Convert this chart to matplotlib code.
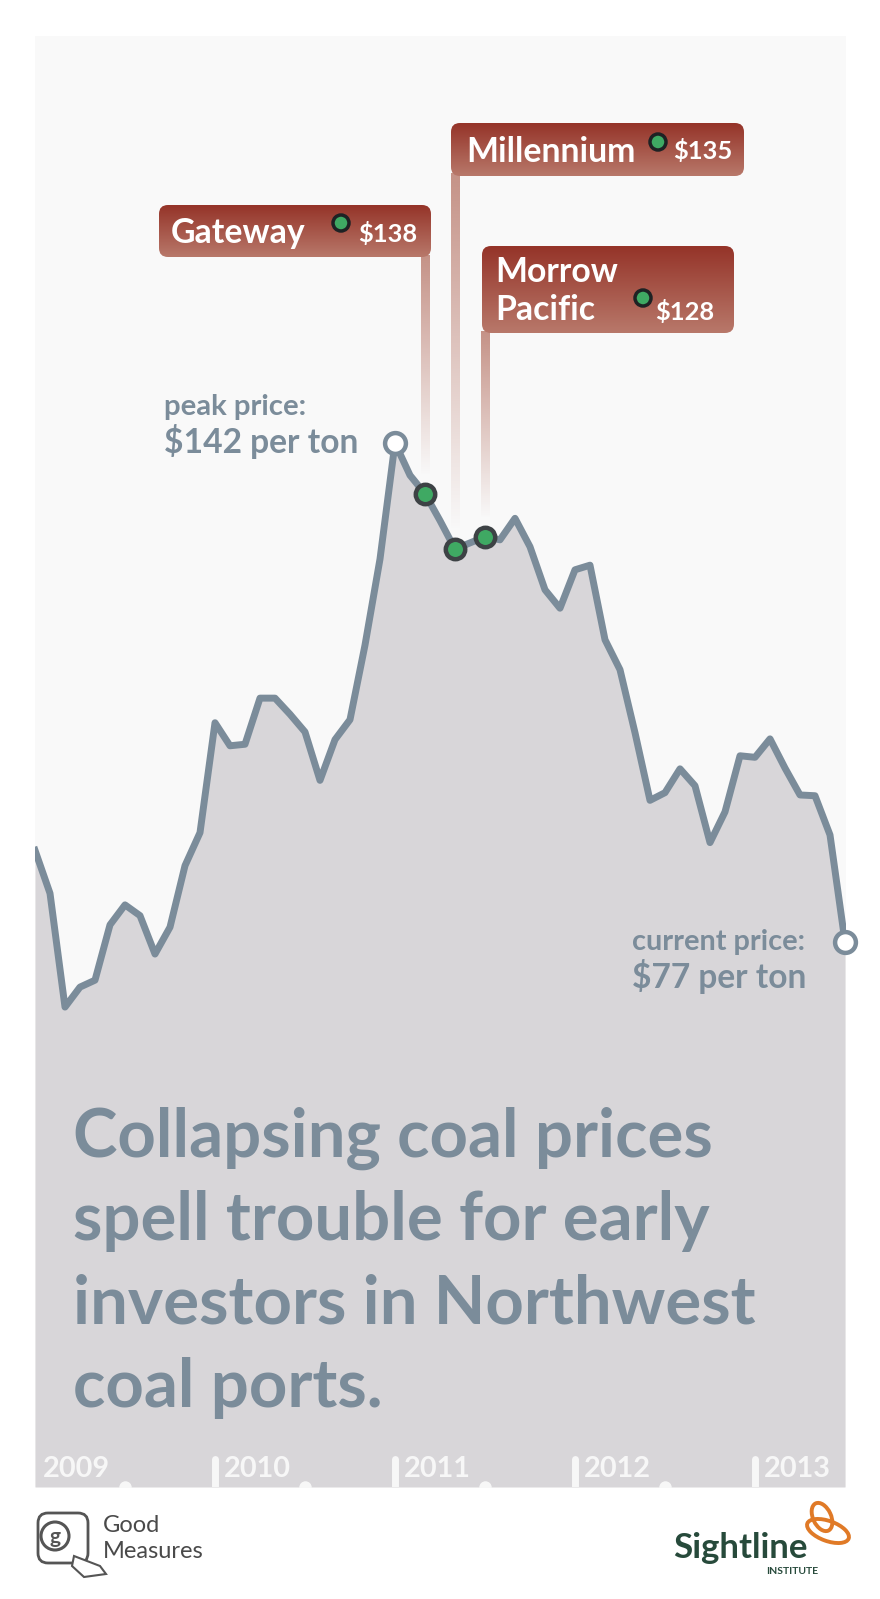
import matplotlib
matplotlib.use("Agg")
import matplotlib.pyplot as plt
from matplotlib.patches import FancyBboxPatch, Ellipse, Polygon, Circle
from matplotlib.colors import to_rgb
import numpy as np

# monthly coal price, Jan 2009 .. Jul 2013 ($ per ton)
prices = [89.0, 83.4, 68.6, 71.2, 72.1, 79.3, 81.9, 80.5, 75.5, 79.0, 87.0, 91.3,
          105.6, 102.6, 102.8, 108.8, 108.8, 106.7, 104.4, 98.1, 103.4, 106.0, 115.7, 126.9,
          142.0, 137.8, 135.4, 131.9, 128.2, 129.0, 129.8, 129.4, 132.2, 128.5, 122.9, 120.5,
          125.5, 126.1, 116.4, 112.5, 104.3, 95.5, 96.5, 99.6, 97.4, 90.0, 94.0, 101.3,
          101.1, 103.5, 99.7, 96.2, 96.1, 91.0, 77.1]
years = ["2009", "2010", "2011", "2012", "2013"]
year_month = [0, 12, 24, 36, 48]
half_year_month = [6, 18, 30, 42]

projects = ["Gateway", "Millennium", "Morrow\nPacific"]
project_month = [26, 28, 30]
project_value = ["$138", "$135", "$128"]

peak_idx = int(np.argmax(prices))
last_idx = len(prices) - 1

LINE = "#7b8c9a"
FILL = "#d8d6d9"
PANEL = "#f9f9f9"
GREEN = "#3fa963"
FONT = "Lato"

W, H = 880, 1599
fig = plt.figure(figsize=(W / 100, H / 100), dpi=100, facecolor="white")

# chart panel in pixels: x 35..846, y 36..1487
L, R, T, B = 35, 846, 36, 1487
ax = fig.add_axes([L / W, (H - B) / H, (R - L) / W, (B - T) / H])
ax.set_facecolor(PANEL)
for s in ax.spines.values():
    s.set_visible(False)
ax.set_xticks([])
ax.set_yticks([])

x = np.arange(len(prices))
ymin, ymax = 6.15, 194.96
ax.set_xlim(0, (R - L) / 15.0)
ax.set_ylim(ymin, ymax)

ax.fill_between(x, prices, ymin, color=FILL, lw=0, zorder=1)
ax.plot(x, prices, color=LINE, lw=5, solid_joinstyle="round", zorder=3)

# project dots on the line
ax.plot(project_month, [prices[m] for m in project_month], "o", ms=14, mew=3.2,
        mfc=GREEN, mec="#3d4245", zorder=5)
# peak and current open circles
ax.plot([peak_idx, last_idx], [prices[peak_idx], prices[last_idx]], "o", ms=15, mew=3.2,
        mfc="white", mec=LINE, zorder=5, clip_on=False)

# year axis inside the panel
def yfrac(ypx):
    return (B - ypx) / (B - T)

xt = ax.get_xaxis_transform()
ax.vlines(year_month[1:], 0, yfrac(1459), transform=xt, colors="#f7f7f7",
          lw=5, capstyle="round", zorder=4)
ax.plot(half_year_month, [ymin] * len(half_year_month), "o", ms=9, color="#f7f7f7",
        mec="none", zorder=4)

fig.canvas.draw()
rend = fig.canvas.get_renderer()

# overlay axes in pixel coordinates (y down)
ov = fig.add_axes([0, 0, 1, 1], zorder=5)
ov.set_xlim(0, W)
ov.set_ylim(H, 0)
ov.axis("off")
ov.patch.set_alpha(0)


def to_px(xd, yd):
    px, py = ax.transData.transform((xd, yd))
    return px, H - py


def fit(axo, xx, yy, s, width, **kw):
    t = axo.text(xx, yy, s, fontsize=20, **kw)
    w = t.get_window_extent(rend).width
    t.set_fontsize(20 * width / w)
    return t


def fitsize(s, width, **kw):
    t = ov.text(0, 0, s, fontsize=20, **kw)
    w = t.get_window_extent(rend).width
    t.remove()
    return 20 * width / w


# year labels
ysz = fitsize("2009", 67, family=FONT, weight="bold")
for lab, m in zip(years, year_month):
    px, _ = to_px(m, 0)
    ov.text(px + (8 if m == 0 else 9), 1477, lab, fontsize=ysz, family=FONT,
            weight="bold", color="#f7f7f7", va="baseline", ha="left")

# callout boxes
boxes = [(159, 431, 205, 257), (451, 744, 123, 176), (482, 734, 246, 333)]
top_c = np.array(to_rgb("#953429"))
bot_c = np.array(to_rgb("#b8786a"))
name_sz = fitsize("Gateway", 134, family=FONT, weight="bold")
val_sz = fitsize("$138", 59, family=FONT, weight="bold")
name_pos = [(171, 243), (466, 162), (495, 282)]
dot_pos = [(341, 223), (658, 142), (643, 298)]
val_pos = [(358, 242), (673, 159), (655, 320)]

for k, (x0, x1, y0, y1) in enumerate(boxes):
    grad = np.linspace(0, 1, 64)[:, None, None]
    img = top_c * (1 - grad) + bot_c * grad
    im = ov.imshow(img, extent=(x0, x1, y1, y0), origin="upper", aspect="auto",
                   zorder=2, interpolation="bilinear")
    patch = FancyBboxPatch((x0, y0), x1 - x0, y1 - y0,
                           boxstyle="round,pad=0,rounding_size=9",
                           fc="none", ec="none", transform=ov.transData)
    ov.add_patch(patch)
    im.set_clip_path(patch)

    # stem from box down toward the dot
    m = project_month[k]
    sx, sy = to_px(m, prices[m])
    stem_top = y1 - 2
    stem_bot = sy - 18
    a = np.linspace(0.8, 0.0, 128)
    stem = np.zeros((128, 1, 4))
    stem[..., :3] = bot_c
    stem[:, 0, 3] = a
    ov.imshow(stem, extent=(sx - 4.5, sx + 4.5, stem_bot, stem_top), origin="upper",
              aspect="auto", zorder=1, interpolation="bilinear")

    if k == 2:
        ov.text(name_pos[k][0], name_pos[k][1], "Morrow", fontsize=name_sz, family=FONT,
                weight="bold", color="white", va="baseline", zorder=4)
        ov.text(name_pos[k][0], name_pos[k][1] + 38, "Pacific", fontsize=name_sz,
                family=FONT, weight="bold", color="white", va="baseline", zorder=4)
    else:
        ov.text(name_pos[k][0], name_pos[k][1], projects[k], fontsize=name_sz,
                family=FONT, weight="bold", color="white", va="baseline", zorder=4)
    ov.add_patch(Circle(dot_pos[k], 8, fc=GREEN, ec="#1e2224", lw=2.5, zorder=4))
    ov.text(val_pos[k][0], val_pos[k][1], project_value[k], fontsize=val_sz, family=FONT,
            weight="bold", color="white", va="baseline", zorder=4)

# peak / current labels
lab_c = "#7b8c9a"
fit(ov, 164, 415, "peak price:", 143, family=FONT, weight="bold", color=lab_c,
    va="baseline")
fit(ov, 164, 453, f"${prices[peak_idx]:.0f} per ton", 195, family=FONT, weight="bold",
    color=lab_c, va="baseline")
fit(ov, 632, 950, "current price:", 173, family=FONT, weight="bold", color=lab_c,
    va="baseline")
fit(ov, 632, 988, f"${prices[last_idx]:.0f} per ton", 175, family=FONT, weight="bold",
    color=lab_c, va="baseline")

# headline
title = ["Collapsing coal prices", "spell trouble for early",
         "investors in Northwest", "coal ports."]
tsz = fitsize(title[0], 639, family=FONT, weight="bold")
for j, line in enumerate(title):
    ov.text(73, 1157 + 83.3 * j, line, fontsize=tsz, family=FONT, weight="bold",
            color="#7b8c9a", va="baseline")

# Good Measures logo
gm = "#555555"
ov.add_patch(FancyBboxPatch((38, 1513), 50, 50, boxstyle="round,pad=0,rounding_size=10",
                            fc="white", ec=gm, lw=2))
ov.add_patch(Circle((55, 1536), 14, fc="white", ec=gm, lw=2.2))
ov.text(55, 1537, "g", fontsize=15, family=FONT, weight="bold", color=gm,
        ha="center", va="center")
ov.add_patch(Polygon([[74, 1556], [100, 1566], [106, 1574], [84, 1577], [72, 1566]],
                     closed=True, fc="white", ec=gm, lw=1.5))
gsz = fitsize("Measures", 101, family=FONT)
ov.text(103, 1532, "Good", fontsize=gsz, family=FONT, color="#4a4a4a", va="baseline")
ov.text(103, 1558, "Measures", fontsize=gsz, family=FONT, color="#4a4a4a", va="baseline")

# Sightline logo
fit(ov, 673, 1558, "Sightline", 135, family=FONT, weight="bold", color="#274a3b",
    va="baseline")
ov.text(818, 1574, "INSTITUTE", fontsize=7.5, family=FONT, weight="bold",
        color="#274a3b", va="baseline", ha="right")
orange = "#e07a27"
ov.add_patch(Ellipse((822, 1517), 18, 30, angle=-25, fc="none", ec=orange, lw=2.8))
ov.add_patch(Ellipse((828, 1531), 44, 20, angle=20, fc="none", ec=orange, lw=2.8))

fig.savefig("out.png", dpi=100, facecolor="white")
